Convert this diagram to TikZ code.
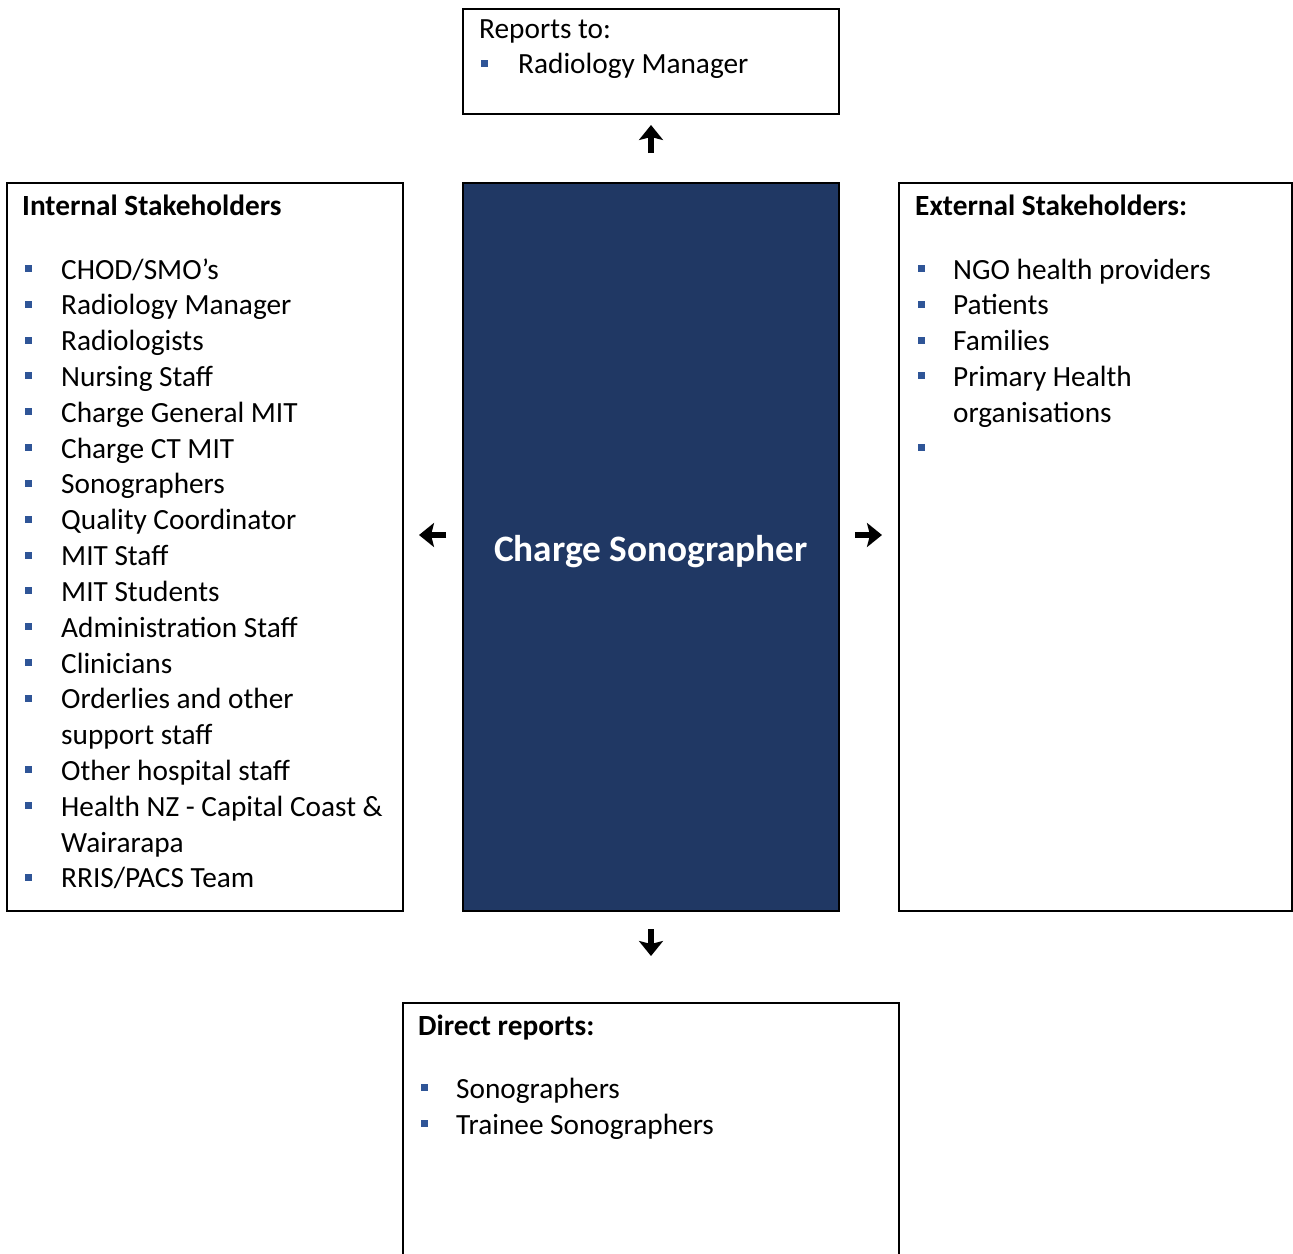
\documentclass[tikz,border=0pt]{standalone}
\usepackage{fontspec}
\setmainfont{Carlito}
\usetikzlibrary{arrows.meta, positioning}

\definecolor{chargeblue}{HTML}{203864}
\definecolor{bulletblue}{HTML}{2F5597}

\begin{document}
\begin{tikzpicture}[x=1pt, y=-1pt,
  every node/.style={font=\fontsize{29.3}{35.8}\selectfont},
  box/.style={draw, line width=2.5pt, anchor=north west, inner sep=0pt, outer sep=0pt},
  item/.style={anchor=base west, inner sep=0pt},
  head/.style={item, font=\fontsize{29.3}{35.8}\selectfont\bfseries},
  sq/.style={fill=bulletblue, minimum size=7pt, inner sep=0pt},
  flow/.style={line width=6pt, -{Stealth[width=24pt, length=15pt, inset=3pt]}}]
  \useasboundingbox (0,0) rectangle (1293,1253);
  \clip (0,0) rectangle (1293,1253);

  % boxes
  \node[box, minimum width=376pt, minimum height=105pt] (reports) at (463,9) {};
  \node[box, minimum width=396pt, minimum height=728pt] (internal) at (7,183) {};
  \node[box, fill=chargeblue, minimum width=376pt, minimum height=728pt] (centre) at (463,183) {};
  \node[box, minimum width=393pt, minimum height=728pt] (external) at (899,183) {};
  \node[box, minimum width=496pt, minimum height=280pt] (direct) at (403,1003) {};

  % title
  \node[anchor=base, text=white, font=\fontsize{37.3}{45}\selectfont\bfseries] (title) at (651,561) {Charge Sonographer};

  % arrows
  \draw[flow, shorten <=30pt, shorten >=11pt] (centre.north) -- (reports.south);
  \draw[flow, shorten <=18pt, shorten >=47pt] (centre.south) -- (direct.north);
  \draw[flow, shorten <=17pt, shorten >=16pt] ([yshift=12pt]centre.west) -- ([yshift=12pt]internal.east);
  \draw[flow, shorten <=16pt, shorten >=17pt] ([yshift=12pt]centre.east) -- ([yshift=12pt]external.west);

  % reports to
  \node[item] (reportshead) at (479,38) {Reports to:};
  \node[sq] (reportsb) at (484.5,63.5) {};
  \node[item] (reportsitem) at (518,73) {Radiology Manager};

  % internal stakeholders
  \node[head] (internalhead) at (22,215) {Internal Stakeholders};
  \foreach \txt [count=\i from 0] in {{CHOD/SMO’s}, Radiology Manager, Radiologists,
      Nursing Staff, Charge General MIT, Charge CT MIT, Sonographers,
      Quality Coordinator, MIT Staff, MIT Students, Administration Staff,
      Clinicians, Orderlies and other, support staff, Other hospital staff,
      Health NZ - Capital Coast \&, Wairarapa, {RRIS/PACS Team}}
    \node[item] (int\i) at (61,{279+35.82*\i}) {\txt};
  \foreach \i in {0,...,12,14,15,17}
    \node[sq] (intb\i) at (28.5,{268.5+35.82*\i}) {};

  % external stakeholders
  \node[head] (externalhead) at (915,215) {External Stakeholders:};
  \foreach \txt [count=\i from 0] in {NGO health providers, Patients, Families,
      Primary Health, organisations}
    \node[item] (ext\i) at (953,{279+35.82*\i}) {\txt};
  \foreach \i in {0,1,2,3,5}
    \node[sq] (extb\i) at (921,{268.5+35.82*\i}) {};

  % direct reports
  \node[head] (directhead) at (418,1035) {Direct reports:};
  \foreach \txt [count=\i from 0] in {Sonographers, Trainee Sonographers}
    \node[item] (dir\i) at (456,{1098+36*\i}) {\txt};
  \foreach \i in {0,1}
    \node[sq] (dirb\i) at (424.5,{1087.5+36*\i}) {};
\end{tikzpicture}
\end{document}
